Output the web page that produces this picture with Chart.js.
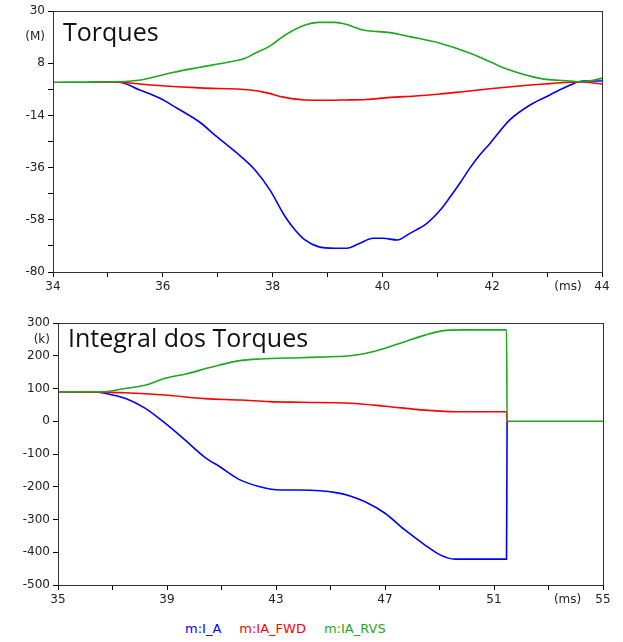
<!DOCTYPE html>
<html>
<head>
<meta charset="utf-8">
<script src="https://cdn.jsdelivr.net/npm/chart.js@4/dist/chart.umd.min.js"></script>
<style>
    body { margin: 0; background: #fff; width: 623px; height: 642px; position: relative; overflow: hidden; }
    #top-wrap { position: absolute; left: 0; top: 0; width: 623px; height: 300px; }
    #bottom-wrap { position: absolute; left: 0; top: 300px; width: 623px; height: 315px; }
    #legend { position: absolute; left: 185px; top: 621px; display: flex; gap: 18px;
              font: 13px "DejaVu Sans", sans-serif; white-space: nowrap; }
</style>
</head>
<body>
<div id="top-wrap"><canvas id="top-chart" width="623" height="300"></canvas></div>
<div id="bottom-wrap"><canvas id="bottom-chart" width="623" height="315"></canvas></div>
<div id="legend"></div>
<script>
// series names and colours
const seriesNames = ['m:I_A', 'm:IA_FWD', 'm:IA_RVS'];
const seriesColors = ['#0000ff', '#ff0000', '#1ea81e'];

// Torques (ms, M)
const topBlueT = [34.65, 35.2, 35.58, 35.95, 36.26, 36.68, 36.95, 37.32, 37.68, 37.95, 38.23, 38.41, 38.59, 38.83, 39.14, 39.35, 39.59, 39.83, 40.01, 40.27, 40.5, 40.81, 41.05, 41.23, 41.41, 41.6, 41.78, 41.96, 42.32, 42.69, 43.05, 43.42, 43.65, 44];
const topBlueV = [0, 0, -3.3, -6.8, -11, -17, -22.3, -29.3, -37, -45.4, -56.7, -62.3, -66.5, -69.3, -70, -70, -67.9, -65.8, -65.8, -66.5, -63.7, -59.5, -54, -48.5, -42.6, -36, -30.5, -25.8, -15.9, -9.6, -5.4, -1.2, 0.5, 0.5];
const topRedT = [34.8, 35.2, 35.77, 36.68, 37.59, 37.9, 38.2, 38.6, 39.0, 39.32, 39.7, 40.14, 40.6, 41.05, 41.5, 41.96, 42.3, 42.69, 43.05, 43.42, 43.7, 44];
const topRedV = [0, 0, -1.2, -2.4, -3.3, -4.5, -6.3, -7.5, -7.6, -7.5, -7.3, -6.4, -5.8, -5.0, -3.9, -2.8, -2.0, -1.2, -0.6, 0, 0, -0.8];
const topGreenT = [34, 35.2, 35.6, 36.2, 36.68, 37.2, 37.5, 37.68, 37.95, 38.23, 38.59, 38.83, 39.14, 39.32, 39.65, 40.14, 40.5, 41.05, 41.6, 41.96, 42.32, 42.87, 43.42, 43.65, 44];
const topGreenV = [0, 0.2, 0.9, 4.2, 6.3, 8.5, 10.1, 12.2, 15.2, 19.9, 24.1, 25.2, 25.2, 24.5, 22, 20.9, 19.2, 16.4, 12.2, 8.6, 5.1, 1.6, 0.5, 0.2, 1.6];

// Integral dos Torques (ms, k)
const botBlueT = [35, 36.24, 36.8, 37.46, 38.19, 38.93, 39.66, 40.39, 40.94, 41.68, 42.41, 43.15, 43.88, 44.61, 45.2, 45.72, 46.27, 47, 47.73, 48.47, 49.02, 49.57, 51.46, 51.48];
const botBlueV = [90, 90, 84, 70, 40, -6, -57, -110, -139, -179, -200, -210, -210, -212, -218, -228, -246, -281, -332, -378, -408, -421, -421, 0];
const botRedT = [35, 36.5, 37.46, 38.93, 40.39, 41.68, 42.78, 43.88, 45.72, 47, 48.47, 49.57, 51.46, 51.48];
const botRedV = [90, 89, 87, 80, 69, 65, 60, 58, 55, 46, 34, 29, 29, 0];
const botGreenT = [35, 36.6, 37.46, 38.19, 38.93, 39.77, 40.39, 40.94, 41.68, 42.41, 43.88, 45.0, 45.72, 46.27, 47, 47.73, 48.47, 49.09, 49.83, 51.46, 51.48, 55];
const botGreenV = [90, 90, 100, 110, 131, 146, 160, 172, 185, 190, 194, 197, 200, 207, 223, 243, 263, 276, 279, 279, 0, 0];

// ticks
const topXTicks = [34, 35, 36, 37, 38, 39, 40, 41, 42, 43, 43.38, 44];
const topXLabels = ['34', '', '36', '', '38', '', '40', '', '42', '', '(ms)', '44'];
const topYTicks = [-80, -69, -58, -47, -36, -25, -14, -3, 8, 19, 30];
const topYLabels = ['-80', '', '-58', '', '-36', '', '-14', '', '8', '(M)', '30'];
const botXTicks = [35, 37, 39, 41, 43, 45, 47, 49, 51, 53, 53.7, 55];
const botXLabels = ['35', '', '39', '', '43', '', '47', '', '51', '', '(ms)', '55'];
const botYTicks = [-500, -400, -300, -200, -100, 0, 100, 200, 250, 300];
const botYLabels = ['-500', '-400', '-300', '-200', '-100', '0', '100', '200', '(k)', '300'];

const points = (ts, vs) => ts.map((t, i) => ({ x: t, y: vs[i] }));

// frame round the plot area plus the title written inside it
const framePlugin = {
    id: 'frame',
    afterDraw(chart, args, opts) {
        const { ctx, chartArea } = chart;
        ctx.save();
        ctx.strokeStyle = '#333';
        ctx.lineWidth = 1;
        ctx.strokeRect(chartArea.left + 0.5, chartArea.top + 0.5, chartArea.width, chartArea.height);
        ctx.fillStyle = '#111';
        ctx.font = '25px "Open Sans", sans-serif';
        ctx.textBaseline = 'alphabetic';
        ctx.fillText(opts.text, chartArea.left + 10, chartArea.top + opts.offset);
        ctx.restore();
    }
};

function makeAxis(min, max, ticks, labels, fixed, isX) {
    return {
        type: 'linear',
        min: min,
        max: max,
        afterBuildTicks: scale => { scale.ticks = ticks.map(v => ({ value: v })); },
        afterFit: scale => { if (isX) scale.height = fixed; else scale.width = fixed; },
        border: { display: true, color: '#000', width: 1 },
        grid: {
            drawOnChartArea: false,
            drawTicks: true,
            tickLength: 5,
            color: '#000',
            tickColor: c => (c.tick && labels[ticks.indexOf(c.tick.value)].startsWith('(')) ? 'rgba(0,0,0,0)' : '#000'
        },
        ticks: {
            autoSkip: false,
            maxRotation: 0,
            padding: 3,
            color: '#222',
            font: { family: '"DejaVu Sans", sans-serif', size: 12 },
            callback: (value, index) => labels[index]
        }
    };
}

function makeChart(id, sets, xAxis, yAxis, padding, title) {
    const datasets = sets.map((s, i) => ({
        label: seriesNames[i],
        data: s,
        borderColor: seriesColors[i],
        borderWidth: 1.6,
        pointRadius: 0,
        fill: false,
        cubicInterpolationMode: 'monotone',
        order: 2 - i
    }));
    return new Chart(document.getElementById(id), {
        type: 'line',
        data: { datasets: datasets },
        options: {
            responsive: false,
            animation: false,
            layout: { padding: padding },
            scales: { x: xAxis, y: yAxis },
            plugins: {
                legend: { display: false },
                tooltip: { enabled: false },
                frame: title
            }
        },
        plugins: [framePlugin]
    });
}

makeChart('top-chart',
    [points(topBlueT, topBlueV), points(topRedT, topRedV), points(topGreenT, topGreenV)],
    makeAxis(34, 44, topXTicks, topXLabels, 28, true),
    makeAxis(-80, 30, topYTicks, topYLabels, 53, false),
    { top: 11, right: 21, left: 0, bottom: 0 },
    { text: 'Torques', offset: 30 });

makeChart('bottom-chart',
    [points(botBlueT, botBlueV), points(botRedT, botRedV), points(botGreenT, botGreenV)],
    makeAxis(35, 55, botXTicks, botXLabels, 30, true),
    makeAxis(-500, 300, botYTicks, botYLabels, 58, false),
    { top: 23, right: 20, left: 0, bottom: 0 },
    { text: 'Integral dos Torques', offset: 24 });

// legend: coloured names only
const legend = document.getElementById('legend');
seriesNames.forEach((name, i) => {
    const span = document.createElement('span');
    span.textContent = name;
    span.style.color = seriesColors[i];
    legend.appendChild(span);
});
</script>
</body>
</html>
